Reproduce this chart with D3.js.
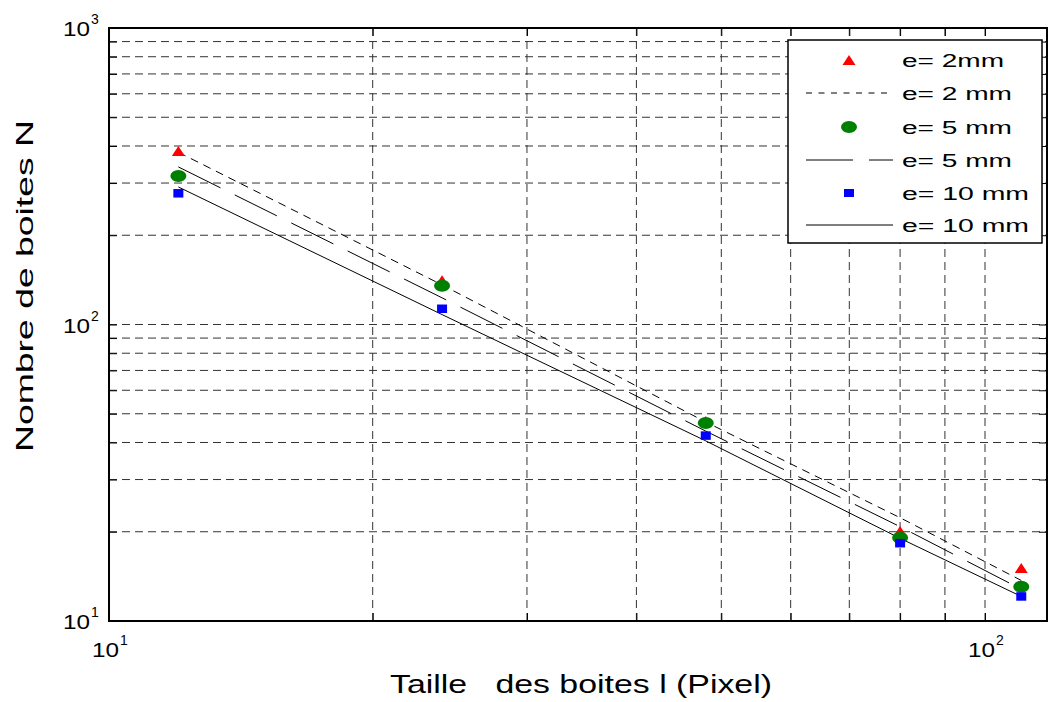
<!DOCTYPE html>
<html><head><meta charset="utf-8">
<script src="https://cdn.jsdelivr.net/npm/d3@7"></script>
<style>body{margin:0;background:#fff}svg{display:block}text{font-family:"Liberation Sans",Arial,sans-serif;fill:#000}</style>
</head><body>
<svg id="c" width="1050" height="702"></svg>
<script>
// Data
const sizes = [12, 24, 48, 80, 110];
const n2mm = [385, 141, 47.3, 20.1, 15.1];
const n5mm = [317, 135, 46.5, 19.1, 13.05];
const n10mm = [277, 113, 42.2, 18.3, 12.1];
const fit2mm = [381, 136, 46.9, 22.3, 13.7];
const fit5mm = [340, 123, 43.7, 20.8, 12.8];
const fit10mm = [291, 108, 40.5, 19.0, 12.1];
const legendLabels = ["e= 2mm", "e= 2 mm", "e= 5 mm", "e= 5 mm", "e= 10 mm", "e= 10 mm"];
const xMajor = [10, 100];
const yMajor = [10, 100, 1000];
const xMinor = [20, 30, 40, 50, 60, 70, 80, 90];
const yMinor = [20, 30, 40, 50, 60, 70, 80, 90, 200, 300, 400, 500, 600, 700, 800, 900];

const svg = d3.select("#c");
const L = 109, R = 1047, T = 28, B = 621;
const decade = 876;
const xMax = Math.pow(10, 1 + (R - L) / decade);
const x = d3.scaleLog().domain([10, xMax]).range([L, R]);
const y = d3.scaleLog().domain([10, 1000]).range([B, T]);

// grid
const g = svg.append("g");
g.selectAll("line.gx").data(xMinor.concat([100])).join("line")
  .attr("x1", d => x(d)).attr("x2", d => x(d)).attr("y1", T).attr("y2", B)
  .attr("stroke", "#333").attr("stroke-width", 1).attr("stroke-dasharray", "8,5");
g.selectAll("line.gy").data(yMinor.concat([100])).join("line")
  .attr("y1", d => y(d)).attr("y2", d => y(d)).attr("x1", L).attr("x2", R)
  .attr("stroke", "#333").attr("stroke-width", 1).attr("stroke-dasharray", "8,5");

// axes ticks (inside)
const allX = xMinor.concat(xMajor);
const allY = yMinor.concat(yMajor);
svg.append("g").attr("transform", `translate(0,${B})`)
  .call(d3.axisBottom(x).tickValues(allX).tickSizeInner(-8).tickSizeOuter(0).tickFormat(""))
  .call(s => s.select(".domain").remove());
svg.append("g").attr("transform", `translate(0,${T})`)
  .call(d3.axisTop(x).tickValues(allX).tickSizeInner(-8).tickSizeOuter(0).tickFormat(""))
  .call(s => s.select(".domain").remove());
svg.append("g").attr("transform", `translate(${L},0)`)
  .call(d3.axisLeft(y).tickValues(allY).tickSizeInner(-8).tickSizeOuter(0).tickFormat(""))
  .call(s => s.select(".domain").remove());
svg.append("g").attr("transform", `translate(${R},0)`)
  .call(d3.axisRight(y).tickValues(allY).tickSizeInner(-8).tickSizeOuter(0).tickFormat(""))
  .call(s => s.select(".domain").remove());
svg.selectAll(".tick line").attr("stroke", "#000").attr("stroke-width", 1);

// frame
svg.append("rect").attr("x", L).attr("y", T).attr("width", R - L).attr("height", B - T)
  .attr("fill", "none").attr("stroke", "#000").attr("stroke-width", 2);

// tick labels
function expLabel(px, py, exp, anchorRight) {
  // px,py: for anchorRight -> right edge & vertical center; else -> horizontal center & baseline
  let bx, base;
  if (anchorRight) { bx = px - 36; base = py + 8; }
  else { bx = px - 17; base = py; }
  svg.append("text").attr("x", bx).attr("y", base).attr("font-size", 21)
    .attr("textLength", 27).attr("lengthAdjust", "spacingAndGlyphs").text("10");
  svg.append("text").attr("x", bx + 28).attr("y", base - 12).attr("font-size", 14).text(exp);
}
xMajor.forEach(v => expLabel(x(v), 657, String(Math.round(Math.log10(v))), false));
yMajor.forEach(v => expLabel(L - 10, y(v), String(Math.round(Math.log10(v))), true));

// axis titles
svg.append("text").attr("x", 390).attr("y", 693).attr("font-size", 25)
  .attr("textLength", 382).attr("lengthAdjust", "spacingAndGlyphs")
  .style("white-space", "pre").text("Taille   des boites l (Pixel)");
svg.append("text").attr("transform", "translate(33,452) rotate(-90)").attr("font-size", 24)
  .attr("textLength", 332).attr("lengthAdjust", "spacingAndGlyphs")
  .text("Nombre de boites N");

// fitted lines
const line = d3.line().x((d, i) => x(sizes[i])).y(d => y(d));
const styles = [
  {data: fit2mm, dash: "8,6", color: "#000", w: 1},
  {data: fit5mm, dash: "47,16", color: "#000", w: 1},
  {data: fit10mm, dash: null, color: "#000", w: 1}
];
styles.forEach(s => {
  svg.append("path").datum(s.data).attr("d", line).attr("fill", "none")
    .attr("stroke", s.color).attr("stroke-width", s.w)
    .attr("stroke-dasharray", s.dash);
});

// markers
function tri(cx, cy) { return `M${cx - 6.5},${cy + 5}L${cx + 6.5},${cy + 5}L${cx},${cy - 5}Z`; }
const mk = svg.append("g");
mk.selectAll("path.t").data(n2mm).join("path")
  .attr("d", (d, i) => tri(x(sizes[i]), y(d))).attr("fill", "#ff0000");
mk.selectAll("ellipse").data(n5mm).join("ellipse")
  .attr("cx", (d, i) => x(sizes[i])).attr("cy", d => y(d)).attr("rx", 8).attr("ry", 6).attr("fill", "#008000");
mk.selectAll("rect").data(n10mm).join("rect")
  .attr("x", (d, i) => x(sizes[i]) - 5).attr("y", d => y(d) - 4.25).attr("width", 10).attr("height", 8.5).attr("fill", "#0000ff");

// legend
const lg = svg.append("g");
lg.append("rect").attr("x", 788).attr("y", 40).attr("width", 254).attr("height", 203)
  .attr("fill", "#fff").attr("stroke", "#000").attr("stroke-width", 1.5);
const rowY = [60, 93, 127, 160, 193, 225];
const tl = [102, 110, 110, 110, 127, 127];
legendLabels.forEach((t, i) => {
  lg.append("text").attr("x", 902).attr("y", rowY[i] + 7).attr("font-size", 18)
    .attr("textLength", tl[i]).attr("lengthAdjust", "spacingAndGlyphs").text(t);
});
lg.append("path").attr("d", tri(849, rowY[0])).attr("fill", "#ff0000");
lg.append("line").attr("x1", 806).attr("x2", 893).attr("y1", rowY[1]).attr("y2", rowY[1])
  .attr("stroke", "#000").attr("stroke-dasharray", "6,6.5");
lg.append("ellipse").attr("cx", 849).attr("cy", rowY[2]).attr("rx", 8).attr("ry", 6).attr("fill", "#008000");
lg.append("line").attr("x1", 806).attr("x2", 893).attr("y1", rowY[3]).attr("y2", rowY[3])
  .attr("stroke", "#000").attr("stroke-dasharray", "47,16");
lg.append("rect").attr("x", 844).attr("y", rowY[4] - 4).attr("width", 10).attr("height", 8).attr("fill", "#0000ff");
lg.append("line").attr("x1", 806).attr("x2", 893).attr("y1", rowY[5]).attr("y2", rowY[5])
  .attr("stroke", "#555").attr("stroke-width", 1.5);
</script>
</body></html>
